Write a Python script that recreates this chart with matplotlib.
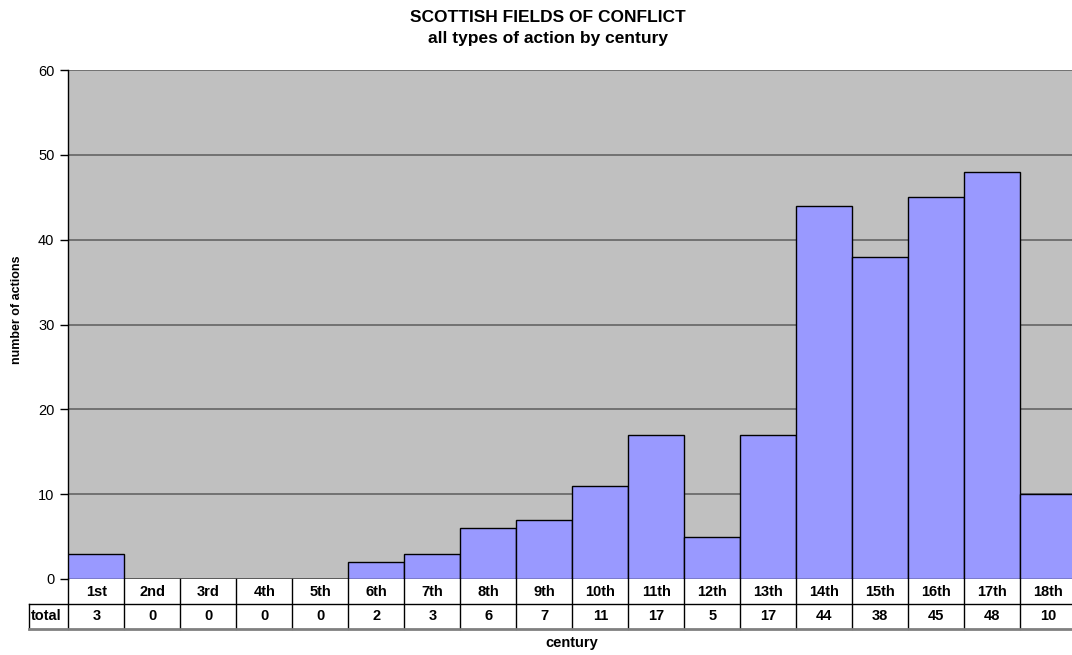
import numpy as np
import matplotlib
matplotlib.use('Agg')
import matplotlib.pyplot as plt

centuries = ['1st', '2nd', '3rd', '4th', '5th', '6th', '7th', '8th', '9th',
             '10th', '11th', '12th', '13th', '14th', '15th', '16th', '17th', '18th']
totals = [3, 0, 0, 0, 0, 2, 3, 6, 7, 11, 17, 5, 17, 44, 38, 45, 48, 10]
row_label = 'total'

plt.rcParams['font.family'] = ['Liberation Sans', 'DejaVu Sans']

W, H = 1072., 655.
fig = plt.figure(figsize=(W/100., H/100.), dpi=100)

# plot area in pixels
px_l, px_r, px_t, px_b = 68.3, 1076.3, 70., 579.
ax = fig.add_axes([px_l/W, 1-px_b/H, (px_r-px_l)/W, (px_b-px_t)/H])
ax.set_facecolor('#C0C0C0')
x = np.arange(len(centuries))
ax.bar(x, totals, width=1.0, color='#9999FF', edgecolor='black', lw=1.0, zorder=3)
ax.set_xlim(-0.5, len(centuries)-0.5)
ax.set_ylim(0, 60)
ax.set_yticks(np.arange(0, 61, 10))
ax.yaxis.grid(True, color='#6b6b6b', lw=1.3, zorder=1)
ax.set_axisbelow(True)
ax.tick_params(axis='y', labelsize=10.5, length=6, width=1, pad=4, color='black')
ax.set_xticks([])
for s in ['top', 'right', 'bottom']:
    ax.spines[s].set_visible(False)
ax.spines['left'].set_linewidth(1.0)

# data table below the plot
tb_l, tb_b = 29., 629.
tab = fig.add_axes([tb_l/W, 1-tb_b/H, (px_r-tb_l)/W, (tb_b-px_b)/H])
cw = (px_r-px_l)/len(centuries)
x0 = -0.5 - (px_l-tb_l)/cw
tab.set_xlim(x0, len(centuries)-0.5)
tab.set_ylim(0, 2)
tab.axis('off')
for i, (c, t) in enumerate(zip(centuries, totals)):
    tab.text(i, 1.5, c, ha='center', va='center', fontsize=10.5, fontweight='bold')
    tab.text(i, 0.5, str(t), ha='center', va='center', fontsize=10.5, fontweight='bold')
tab.text(x0+0.03, 0.5, row_label, ha='left', va='center', fontsize=10.5, fontweight='bold')
for i in range(len(centuries)+1):
    tab.plot([i-0.5, i-0.5], [0, 2], color='black', lw=1.0, clip_on=False)
tab.plot([x0, x0], [0, 1], color='black', lw=1.0, clip_on=False)
tab.plot([x0, len(centuries)-0.5], [1, 1], color='black', lw=1.0, clip_on=False)
tab.plot([x0, len(centuries)-0.5], [0, 0], color='#808080', lw=2.0, clip_on=False)

fig.text(548/W, 1-18/H, 'SCOTTISH FIELDS OF CONFLICT', ha='center', va='center',
         fontsize=12.5, fontweight='bold')
fig.text(548/W, 1-38/H, 'all types of action by century', ha='center', va='center',
         fontsize=12.5, fontweight='bold')
fig.text(572/W, 1-643/H, 'century', ha='center', va='center', fontsize=10.5, fontweight='bold')
fig.text(17/W, 1-310/H, 'number of actions', ha='center', va='center', rotation=90,
         fontsize=9, fontweight='bold')

fig.savefig('out.png', dpi=100)
